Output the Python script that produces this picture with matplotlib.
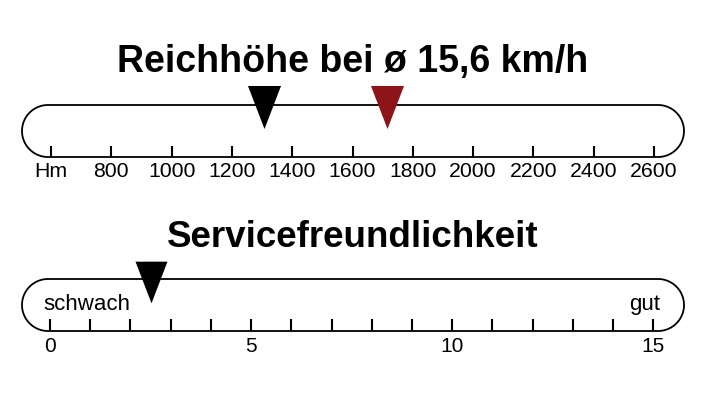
import numpy as np
import matplotlib
matplotlib.use("Agg")
import matplotlib.pyplot as plt
from matplotlib.patches import PathPatch
from matplotlib.path import Path
from matplotlib.transforms import Affine2D

plt.rcParams['font.family'] = ['Liberation Sans', 'DejaVu Sans']

# ---- data ----
range_title = "Reichhöhe bei ø 15,6 km/h"
range_ticks = [600, 800, 1000, 1200, 1400, 1600, 1800, 2000, 2200, 2400, 2600]
range_ticklabels = ["Hm", "800", "1000", "1200", "1400", "1600", "1800", "2000", "2200", "2400", "2600"]
range_values = [1305, 1715]
range_colors = ["#000000", "#8c1519"]

service_title = "Servicefreundlichkeit"
service_ticks = list(range(0, 16))
service_ticklabels = ["0", "", "", "", "", "5", "", "", "", "", "10", "", "", "", "", "15"]
service_values = [2.5]
service_colors = ["#000000"]
service_low = "schwach"
service_high = "gut"

W, H = 712, 403
DPI = 100
fig = plt.figure(figsize=(W / DPI, H / DPI), dpi=DPI)
fig.patch.set_facecolor("white")

TRI = [(-16.5, 21.5), (16.5, 21.5), (0, -21.5)]


def pill_path(wpx, hpx):
    r = hpx / 2.0
    t_right = np.linspace(-np.pi / 2, np.pi / 2, 60)
    t_left = np.linspace(np.pi / 2, 3 * np.pi / 2, 60)
    right = np.column_stack([wpx - r + r * np.cos(t_right), r + r * np.sin(t_right)])
    left = np.column_stack([r + r * np.cos(t_left), r + r * np.sin(t_left)])
    verts = np.vstack([right, left, left[-1:]])
    verts = np.vstack([verts, verts[:1]])
    codes = [Path.MOVETO] + [Path.LINETO] * (len(verts) - 2) + [Path.CLOSEPOLY]
    return Path(verts, codes)


def make_scale(px_left, px_right, px_top, px_bottom, xlim):
    ax = fig.add_axes([px_left / W, 1 - px_bottom / H,
                       (px_right - px_left) / W, (px_bottom - px_top) / H])
    ax.set_xlim(*xlim)
    ax.set_ylim(0, 1)
    ax.patch.set_visible(False)
    for s in ax.spines.values():
        s.set_visible(False)
    ax.set_yticks([])
    wpx = px_right - px_left
    hpx = px_bottom - px_top
    tr = Affine2D().scale(1.0 / wpx, 1.0 / hpx) + ax.transAxes
    pill = PathPatch(pill_path(wpx, hpx), transform=tr, facecolor="none",
                     edgecolor="black", linewidth=1.3, clip_on=False, zorder=1)
    ax.add_patch(pill)
    return ax


# ---- top scale ----
ax1 = make_scale(22, 684, 105, 157, (503.8, 2699.5))
ax1.set_xticks(range_ticks)
ax1.set_xticklabels(range_ticklabels)
ax1.tick_params(axis="x", direction="in", length=8, width=1.5, pad=3.5,
                labelsize=15.3, colors="black")
for v, c in zip(range_values, range_colors):
    ax1.plot([v], [0.971], marker=TRI, markersize=31, color=c,
             markeredgewidth=0, linestyle="none", clip_on=False, zorder=5)
fig.text(352.3 / W, 1 - 71.7 / H, range_title, ha="center", va="baseline",
         fontsize=27, fontweight="bold")

# ---- bottom scale ----
ax2 = make_scale(22, 684, 279, 331, (-0.696, 15.763))
ax2.set_xticks(service_ticks)
ax2.set_xticklabels(service_ticklabels)
ax2.tick_params(axis="x", direction="in", length=8.5, width=1.5, pad=4,
                labelsize=15, colors="black")
for v, c in zip(service_values, service_colors):
    ax2.plot([v], [0.937], marker=TRI, markersize=30, color=c,
             markeredgewidth=0, linestyle="none", clip_on=False, zorder=5)
ax2.text(-0.174, 0.404, service_low, ha="left", va="baseline", fontsize=16)
ax2.text(15.17, 0.404, service_high, ha="right", va="baseline", fontsize=16)
fig.text(353 / W, 1 - 246.7 / H, service_title, ha="center", va="baseline",
         fontsize=26.5, fontweight="bold")

fig.savefig("out.png", dpi=DPI, facecolor="white")
